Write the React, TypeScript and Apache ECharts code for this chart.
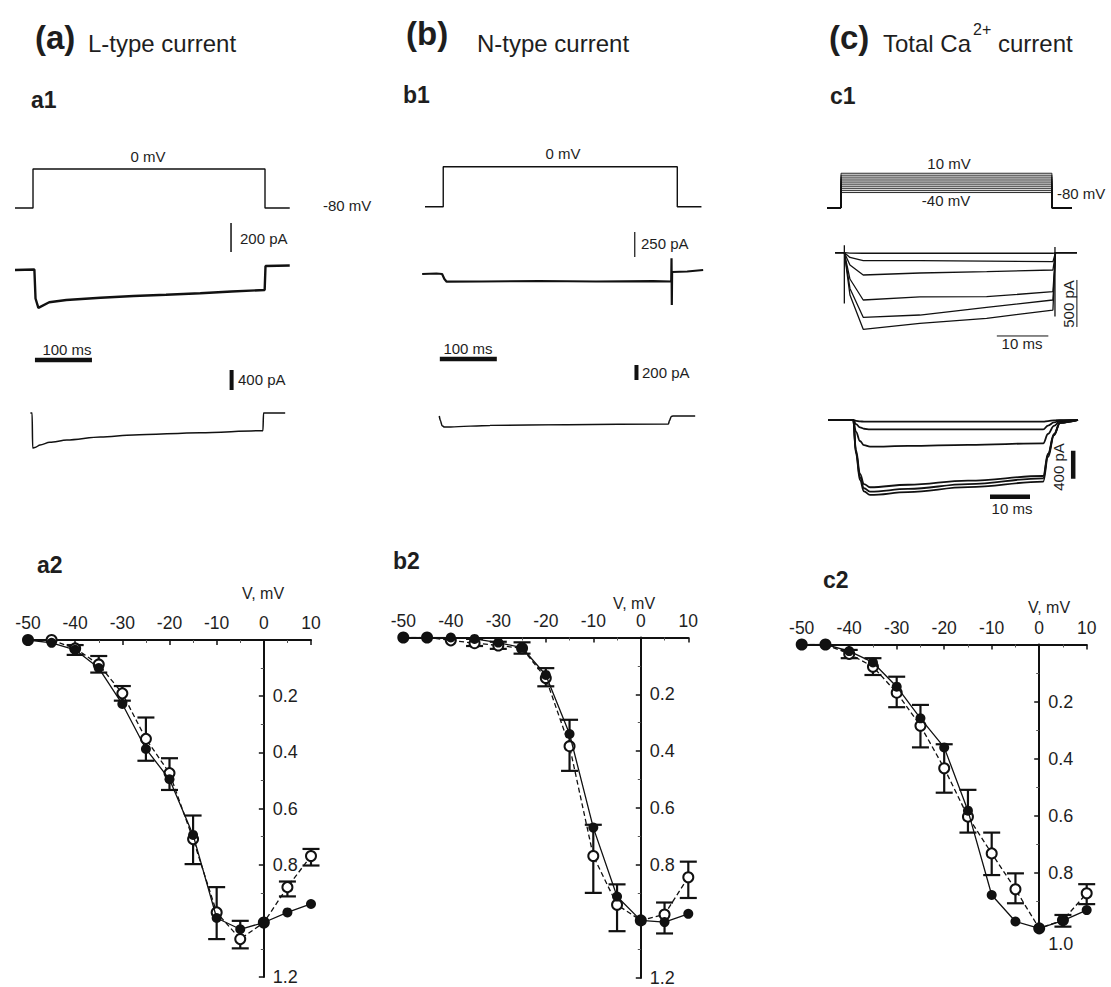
import React, { useEffect, useRef } from "react";
import * as echarts from "echarts";

const FONT = "'Liberation Sans', Arial, Helvetica, sans-serif";
const INK = "#111";
const TXT = "#1e1e1e";

// ---------- I-V data (normalised current vs V, mV) ----------
const V = [-50, -45, -40, -35, -30, -25, -20, -15, -10, -5, 0, 5, 10];
const a2Filled = [0, 0.01, 0.035, 0.1, 0.228, 0.388, 0.496, 0.694, 0.99, 1.03, 1.006, 0.97, 0.94];
const a2Open = [0, 0, 0.03, 0.087, 0.19, 0.352, 0.474, 0.709, 0.97, 1.065, 1.006, 0.88, 0.769];
const a2ErrV = [-40, -35, -30, -25, -20, -15, -10, -5, 5, 10];
const a2ErrLo = [0.018, 0.057, 0.164, 0.276, 0.421, 0.625, 0.88, 1.0, 0.86, 0.744];
const a2ErrHi = [0.053, 0.116, 0.216, 0.43, 0.534, 0.798, 1.065, 1.098, 0.913, 0.803];

const b2Filled = [0, 0, 0, 0.005, 0.018, 0.036, 0.132, 0.34, 0.67, 0.913, 0.997, 1.003, 0.974];
const b2Open = [0, 0, 0.01, 0.02, 0.028, 0.038, 0.143, 0.383, 0.77, 0.942, 0.997, 0.976, 0.845];
const b2ErrV = [-35, -30, -25, -20, -15, -10, -5, 5, 10];
const b2ErrLo = [0.005, 0.015, 0.017, 0.108, 0.29, 0.66, 0.87, 0.934, 0.79];
const b2ErrHi = [0.03, 0.04, 0.057, 0.172, 0.47, 0.9, 1.035, 1.043, 0.918];

const c2Filled = [0, 0, 0.023, 0.063, 0.148, 0.259, 0.361, 0.583, 0.879, 0.972, 0.996, 0.969, 0.932];
const c2Open = [0, 0, 0.033, 0.078, 0.169, 0.285, 0.434, 0.604, 0.733, 0.859, 0.996, 0.967, 0.873];
const c2ErrV = [-40, -35, -30, -25, -20, -15, -10, -5, 5, 10];
const c2ErrLo = [0.019, 0.048, 0.113, 0.212, 0.35, 0.51, 0.66, 0.803, 0.949, 0.841];
const c2ErrHi = [0.048, 0.107, 0.22, 0.361, 0.52, 0.66, 0.809, 0.908, 0.99, 0.911];

// ---------- trace data: [time ms, mV or pA] ----------
const a1Voltage = [[0, -80], [31.6, -80], [31.6, 0], [438.6, 0], [438.6, -80], [482, -80]];
const a1Current = [[0, -3], [34, 0], [36, -200], [41, -265], [60, -226], [90, -210], [150, -195], [208, -183], [265, -174], [325, -164], [380, -152], [438, -141], [439.5, 24], [482, 28]];
const a1Fit = [[27, 0], [30, 0], [31, -700], [35, -690], [44, -640], [61, -586], [91, -540], [150, -480], [208, -440], [325, -394], [433, -354], [435, -354], [436, 0], [474, 0]];
const a1Bar200pA = [[379, 121], [379, 321]];
const a1Bar100ms = [[35, 1060], [135, 1060]];
const a1Bar400pA = [[380, 460], [380, 860]];

const b1Voltage = [[0, -80], [32, -80], [32, 0], [442.6, 0], [442.6, -80], [485, -80]];
const b1Current = [[-5, 0], [20, 5], [30, 0], [34, -50], [38, -77], [100, -75], [200, -70], [300, -75], [400, -72], [432, -75], [432.5, 157], [433, -310], [433.5, 20], [460, 25], [488, 40]];
const b1Fit = [[25, 0], [27, -60], [30, -130], [34, -148], [45, -145], [114, -125], [250, -115], [427, -107], [429, -60], [432, -5], [435, 0], [474, 0]];
const b1Bar250pA = [[368, 170], [368, 420]];
const b1Bar100ms = [[26, 760], [126, 760]];
const b1Bar200pA = [[371, 480], [371, 680]];

const c1Levels = [-40, -35, -30, -25, -20, -15, -10, -5, 0, 5, 10];
const c1StepOn = 2.75;
const c1StepOff = 44.1;
const c1End = 48;
const c1CurTimes = [1.6, 3.4, 4.5, 7.1, 18.2, 31.3, 44.3, 44.8, 49];
const c1Cur = [
  [0, 0, -4, -6, -6, -6, -6, 0, 0],
  [0, 0, -50, -85, -85, -90, -95, 0, 0],
  [0, 0, -130, -237, -216, -202, -184, 0, 0],
  [0, 0, -280, -503, -470, -468, -415, 0, 0],
  [0, 0, -380, -687, -663, -581, -503, 0, 0],
  [0, 0, -450, -815, -751, -698, -610, 0, 0],
];
const c1ArtifactOn = [[3.4, 80], [3.4, -540]];
const c1ArtifactOff = [[44.7, 60], [44.7, -680]];
const c1Bar500pA = [[49, -790], [49, -290]];
const c1Bar10ms = [[33.3, -886], [43.4, -886]];

const c1FitTimes = [0, 6.3, 7, 8, 9, 10.5, 20, 35, 53.8, 55, 56.5, 58, 62.5];
const c1Fit = [
  [0, 0, -12, -20, -23, -24, -24, -24, -24, -15, -6, -1, 0],
  [0, 0, -60, -105, -125, -133, -133, -133, -133, -80, -35, -7, 0],
  [0, 0, -170, -300, -360, -381, -370, -355, -333, -200, -85, -15, 0],
  [0, 0, -430, -770, -915, -961, -925, -865, -800, -480, -200, -40, 0],
  [0, 0, -460, -820, -975, -1024, -985, -915, -833, -500, -210, -40, 0],
  [0, 0, -480, -860, -1020, -1071, -1030, -960, -881, -530, -220, -40, 0],
];
const c1Bar400pA = [[61.3, -840], [61.3, -440]];
const c1FitBar10ms = [[40.5, -1096], [50.5, -1096]];

export default function App() {
  const ref = useRef<HTMLDivElement>(null);
  useEffect(() => {
    document.body.style.margin = "0";
    if (!ref.current) return;
    const chart = echarts.init(ref.current, undefined, { renderer: "svg" });

    const grids: any[] = [];
    const xAxes: any[] = [];
    const yAxes: any[] = [];
    const series: any[] = [];

    const addTraceGrid = (px: number[], anc: number[], sx: number, sy: number, xr: number[], yr: number[]) => {
      const idx = grids.length;
      grids.push({
        left: px[0] - (anc[0] - xr[0]) * sx,
        top: px[1] - (yr[1] - anc[1]) * sy,
        width: (xr[1] - xr[0]) * sx,
        height: (yr[1] - yr[0]) * sy,
      });
      xAxes.push({ gridIndex: idx, type: "value", min: xr[0], max: xr[1], show: false });
      yAxes.push({ gridIndex: idx, type: "value", min: yr[0], max: yr[1], show: false });
      return idx;
    };
    const line = (gi: number, data: any[], width = 1.3, smooth: any = false) => {
      series.push({
        type: "line", xAxisIndex: gi, yAxisIndex: gi, data, symbol: "none", showSymbol: false,
        lineStyle: { color: INK, width }, smooth, smoothMonotone: smooth ? "x" : undefined, silent: true,
      });
    };

    // ---- a1 ----
    const a1V = addTraceGrid([15, 208], [0, -80], 0.57, 0.4875, [0, 490], [-90, 10]);
    line(a1V, a1Voltage, 1.4);
    const a1I = addTraceGrid([15, 269.5], [0, 0], 0.57, 0.145, [0, 490], [-300, 340]);
    line(a1I, a1Current, 2.4);
    line(a1I, a1Bar200pA, 1.5);
    const a1F = addTraceGrid([15, 413], [0, 0], 0.57, 0.05, [0, 490], [-800, 1100]);
    line(a1F, a1Fit, 1.5, 0.3);
    line(a1F, a1Bar100ms, 4.5);
    line(a1F, a1Bar400pA, 4);

    // ---- b1 ----
    const b1V = addTraceGrid([425, 206.7], [0, -80], 0.57, 0.5, [-10, 490], [-90, 10]);
    line(b1V, b1Voltage, 1.4);
    const b1I = addTraceGrid([425, 274], [0, 0], 0.57, 0.1, [-10, 490], [-350, 450]);
    line(b1I, b1Current, 2.2);
    line(b1I, b1Bar250pA, 1.2);
    const b1F = addTraceGrid([425, 416], [0, 0], 0.57, 0.075, [-10, 490], [-200, 800]);
    line(b1F, b1Fit, 1.5, 0.3);
    line(b1F, b1Bar100ms, 4.5);
    line(b1F, b1Bar200pA, 4);

    // ---- c1 ----
    const c1V = addTraceGrid([827, 208], [0, -80], 5.1, 0.386, [0, 50], [-90, 20]);
    c1Levels.forEach((v) =>
      line(c1V, [[0, -80], [c1StepOn, -80], [c1StepOn, v], [c1StepOff, v], [c1StepOff, -80], [c1End, -80]], 0.9)
    );
    const c1I = addTraceGrid([827, 252.7], [0, 0], 5.1, 0.094, [0, 50], [-950, 100]);
    c1Cur.forEach((tr) => line(c1I, c1CurTimes.map((t, i) => [t, tr[i]]), 1.3));
    line(c1I, c1ArtifactOn, 1.3);
    line(c1I, c1ArtifactOff, 1.3);
    line(c1I, c1Bar500pA, 1);
    line(c1I, c1Bar10ms, 1);
    const c1F = addTraceGrid([828, 420], [0, 0], 4, 0.07, [0, 63], [-1200, 60]);
    c1Fit.forEach((tr) => line(c1F, c1FitTimes.map((t, i) => [t, tr[i]]), 1.8, 0.4));
    line(c1F, c1Bar400pA, 4.5);
    line(c1F, c1FitBar10ms, 4.5);

    // ---- I-V plots ----
    const addIV = (left: number, top: number, width: number, height: number, yMax: number, shiftOne: boolean) => {
      const idx = grids.length;
      grids.push({ left, top, width, height });
      const zeroOffset = (width * 10) / 60; // distance from grid right edge (10 mV) to 0 mV
      xAxes.push({
        gridIndex: idx, type: "value", min: -50, max: 10, interval: 10, position: "top",
        axisLine: { onZero: false, lineStyle: { color: INK, width: 2 } },
        axisTick: { inside: true, length: 5, lineStyle: { color: INK, width: 1.5 } },
        minorTick: { show: true, splitNumber: 2, length: 3, lineStyle: { color: "#555", width: 1 } },
        splitLine: { show: false },
        axisLabel: { fontSize: 17.5, fontFamily: FONT, color: TXT, margin: 8 },
      });
      yAxes.push({
        gridIndex: idx, type: "value", inverse: true, min: 0, max: yMax, interval: 0.2, position: "right",
        offset: -zeroOffset,
        axisLine: { onZero: false, lineStyle: { color: INK, width: 2 } },
        axisTick: { inside: true, length: 5, lineStyle: { color: INK, width: 1.5 } },
        minorTick: { show: true, splitNumber: 2, length: 3, lineStyle: { color: "#555", width: 1 } },
        splitLine: { show: false },
        axisLabel: {
          fontSize: 18, fontFamily: FONT, color: TXT, margin: 9,
          formatter: (v: number) => {
            if (Math.abs(v) < 1e-9) return "";
            if (Math.abs(v - 1) < 1e-9) return shiftOne ? "{d|1.0}" : "";
            return v.toFixed(1);
          },
          rich: { d: { fontSize: 18, fontFamily: FONT, color: TXT, padding: [28, 0, 0, 0] } },
        },
      });
      return idx;
    };
    const ivSeries = (gi: number, filled: number[], open: number[], ev: number[], lo: number[], hi: number[]) => {
      series.push({
        type: "custom", xAxisIndex: gi, yAxisIndex: gi, silent: true, z: 3,
        data: ev.map((x, i) => [x, lo[i], hi[i]]),
        encode: { x: 0, y: [1, 2] },
        renderItem: (params: any, api: any) => {
          const x = api.value(0);
          const p1 = api.coord([x, api.value(1)]);
          const p2 = api.coord([x, api.value(2)]);
          const w = 8.5;
          const st = { stroke: INK, lineWidth: 2.2 };
          return {
            type: "group",
            children: [
              { type: "line", shape: { x1: p1[0], y1: p1[1], x2: p2[0], y2: p2[1] }, style: st },
              { type: "line", shape: { x1: p1[0] - w, y1: p1[1], x2: p1[0] + w, y2: p1[1] }, style: st },
              { type: "line", shape: { x1: p2[0] - w, y1: p2[1], x2: p2[0] + w, y2: p2[1] }, style: st },
            ],
          };
        },
      });
      series.push({
        type: "line", xAxisIndex: gi, yAxisIndex: gi, silent: true, z: 4,
        data: V.map((x, i) => [x, open[i]]),
        symbol: "emptyCircle", symbolSize: 10,
        itemStyle: { color: INK, borderColor: INK, borderWidth: 1.6 },
        lineStyle: { color: INK, width: 1.3, type: [5, 3] },
      });
      series.push({
        type: "line", xAxisIndex: gi, yAxisIndex: gi, silent: true, z: 5,
        data: V.map((x, i) => [x, filled[i]]),
        symbol: "circle", symbolSize: 10,
        itemStyle: { color: INK },
        lineStyle: { color: INK, width: 1.3 },
      });
    };
    const a2 = addIV(28, 640, 283, 337, 1.2, false);
    ivSeries(a2, a2Filled, a2Open, a2ErrV, a2ErrLo, a2ErrHi);
    const b2 = addIV(403.3, 637.5, 285, 342, 1.2, false);
    ivSeries(b2, b2Filled, b2Open, b2ErrV, b2ErrLo, b2ErrHi);
    const c2 = addIV(801.7, 644.5, 285, 285, 1.0, true);
    ivSeries(c2, c2Filled, c2Open, c2ErrV, c2ErrLo, c2ErrHi);

    // ---- texts ----
    const T = (text: string, x: number, y: number, size: number, opts: any = {}) => ({
      type: "text", x, y, rotation: opts.rot || 0, silent: true,
      style: {
        text, fontSize: size, fontFamily: FONT, fontWeight: opts.bold ? "bold" : "normal",
        fill: TXT, align: opts.align || "left", verticalAlign: "middle",
      },
    });
    const graphic = [
      T("(a)", 35, 37, 33, { bold: true }),
      T("L-type current", 88, 43, 24),
      T("(b)", 406, 33, 33, { bold: true }),
      T("N-type current", 477, 43, 24),
      T("(c)", 829, 37, 33, { bold: true }),
      T("Total Ca", 883, 43, 24),
      T("2+", 973, 29, 16),
      T("current", 998, 43, 24),
      T("a1", 31, 100, 23, { bold: true }),
      T("b1", 403, 95, 23, { bold: true }),
      T("c1", 830, 96, 23, { bold: true }),
      T("a2", 37, 565, 23, { bold: true }),
      T("b2", 393, 561, 23, { bold: true }),
      T("c2", 823, 580, 23, { bold: true }),
      T("0 mV", 148, 156, 15, { align: "center" }),
      T("-80 mV", 323, 205, 15),
      T("200 pA", 240, 238, 15),
      T("100 ms", 67, 349, 15, { align: "center" }),
      T("400 pA", 238, 379, 15),
      T("0 mV", 563, 153, 15, { align: "center" }),
      T("250 pA", 641, 243, 15),
      T("100 ms", 468, 348, 15, { align: "center" }),
      T("200 pA", 642, 372, 15),
      T("10 mV", 949, 163, 15, { align: "center" }),
      T("-40 mV", 946, 200, 15, { align: "center" }),
      T("-80 mV", 1057, 193, 15),
      T("500 pA", 1068, 304, 15, { align: "center", rot: Math.PI / 2 }),
      T("10 ms", 1022, 343, 15, { align: "center" }),
      T("400 pA", 1058, 467, 15, { align: "center", rot: Math.PI / 2 }),
      T("10 ms", 1012, 508, 15, { align: "center" }),
      T("V, mV", 263, 593, 16, { align: "center" }),
      T("V, mV", 634, 603, 16, { align: "center" }),
      T("V, mV", 1049, 607, 16, { align: "center" }),
    ];

    chart.setOption({
      animation: false,
      backgroundColor: "#ffffff",
      grid: grids,
      xAxis: xAxes,
      yAxis: yAxes,
      series,
      graphic,
    });
    return () => chart.dispose();
  }, []);
  return <div ref={ref} style={{ width: 1111, height: 987 }} />;
}
